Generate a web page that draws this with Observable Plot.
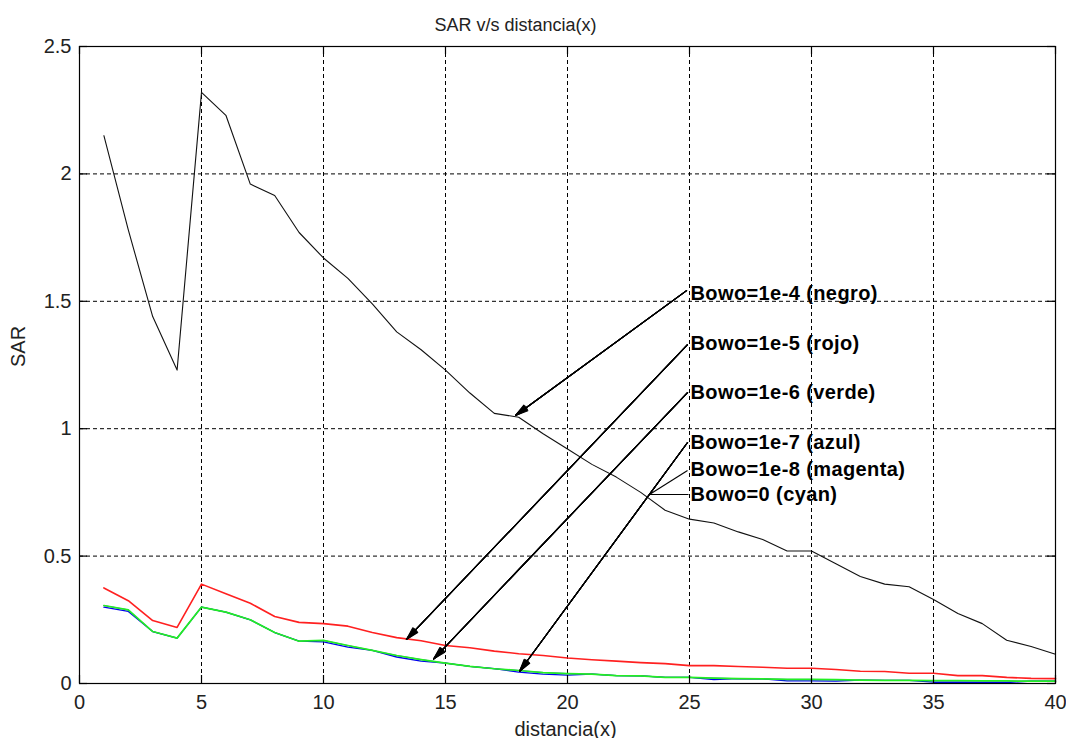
<!DOCTYPE html>
<html>
<head>
<meta charset="utf-8">
<script src="https://cdn.jsdelivr.net/npm/d3@7"></script>
<script src="https://cdn.jsdelivr.net/npm/@observablehq/plot@0.6"></script>
<style>
  html, body { margin: 0; padding: 0; background: white; }
  .anno text { letter-spacing: 0.4px; }
</style>
</head>
<body>
<div id="chart"></div>
<script>
// ---- data ----
const distancia = [1,2,3,4,5,6,7,8,9,10,11,12,13,14,15,16,17,18,19,20,21,22,23,24,25,26,27,28,29,30,31,32,33,34,35,36,37,38,39,40];
const sarNegro = [2.15,1.78,1.44,1.23,2.32,2.23,1.96,1.915,1.77,1.67,1.59,1.49,1.38,1.31,1.23,1.14,1.06,1.045,0.98,0.92,0.86,0.81,0.75,0.68,0.645,0.63,0.595,0.565,0.52,0.52,0.47,0.42,0.39,0.38,0.33,0.275,0.235,0.17,0.145,0.115];
const sarRojo = [0.375,0.325,0.247,0.22,0.39,0.352,0.315,0.263,0.24,0.235,0.225,0.20,0.18,0.168,0.149,0.14,0.127,0.117,0.11,0.10,0.093,0.088,0.082,0.078,0.07,0.07,0.067,0.064,0.06,0.06,0.055,0.048,0.047,0.04,0.04,0.031,0.031,0.024,0.02,0.019];
const sarVerde = [0.306,0.289,0.204,0.178,0.30,0.28,0.25,0.20,0.166,0.169,0.149,0.13,0.11,0.094,0.08,0.067,0.058,0.051,0.043,0.039,0.037,0.031,0.03,0.024,0.024,0.021,0.019,0.018,0.016,0.016,0.015,0.013,0.012,0.012,0.011,0.011,0.010,0.010,0.009,0.009];
const sarAzul = [0.300,0.283,0.204,0.178,0.30,0.28,0.25,0.20,0.166,0.163,0.143,0.13,0.104,0.088,0.08,0.067,0.058,0.045,0.037,0.033,0.037,0.031,0.03,0.024,0.024,0.015,0.019,0.018,0.010,0.010,0.009,0.013,0.012,0.012,0.005,0.005,0.004,0.004,0.009,0.009];
const sarMagenta = [0.306,0.289,0.204,0.178,0.30,0.28,0.25,0.20,0.166,0.169,0.149,0.13,0.11,0.094,0.08,0.067,0.058,0.051,0.043,0.039,0.037,0.031,0.03,0.024,0.024,0.021,0.019,0.018,0.016,0.016,0.015,0.013,0.012,0.012,0.011,0.011,0.010,0.010,0.009,0.009];
const sarCyan = [0.306,0.289,0.204,0.178,0.30,0.28,0.25,0.20,0.166,0.169,0.149,0.13,0.11,0.094,0.08,0.067,0.058,0.051,0.043,0.039,0.037,0.031,0.03,0.024,0.024,0.021,0.019,0.018,0.016,0.016,0.015,0.013,0.012,0.012,0.011,0.011,0.010,0.010,0.009,0.009];

const xTicks = [0,5,10,15,20,25,30,35,40];
const xTickLabels = ["0","5","10","15","20","25","30","35","40"];
const yTicks = [0,0.5,1,1.5,2,2.5];
const yTickLabels = ["0","0.5","1","1.5","2","2.5"];

const titleText = "SAR v/s distancia(x)";
const xLabel = "distancia(x)";
const yLabel = "SAR";

// annotation labels (text anchored at x = labelX, vertical centre = labelY)
const labelTexts = ["Bowo=1e-4 (negro)","Bowo=1e-5 (rojo)","Bowo=1e-6 (verde)","Bowo=1e-7 (azul)","Bowo=1e-8 (magenta)","Bowo=0 (cyan)"];
const labelX = 25.04;
const labelY = [1.531,1.334,1.142,0.946,0.840,0.742];

// arrows with heads: tail (x1,y1) -> tip (x2,y2)
const arrowX1 = [24.88,24.92,24.92,24.92];
const arrowY1 = [1.542,1.330,1.142,0.946];
const arrowX2 = [17.87,13.40,14.51,18.03];
const arrowY2 = [1.052,0.173,0.096,0.047];
// plain leader lines (magenta, cyan) joining the azul arrow
const leadX1 = [24.92,24.96];
const leadY1 = [0.836,0.742];
const leadX2 = [23.36,23.36];
const leadY2 = [0.742,0.742];

// ---- build ----
const idx = distancia.map((_, i) => i);
const arrowIdx = arrowX1.map((_, i) => i);
const leadIdx = leadX1.map((_, i) => i);
const seriesLine = (vals, color, w) =>
  Plot.line(idx, {x: i => distancia[i], y: i => vals[i], stroke: color, strokeWidth: w});

const headAngles = [4, 9, 14, 19, 24, 30];

const chart = Plot.plot({
  width: 1066,
  height: 738,
  marginLeft: 79,
  marginRight: 11,
  marginTop: 46,
  marginBottom: 55,
  x: {domain: [0, 40]},
  y: {domain: [0, 2.5]},
  style: {fontFamily: "'Liberation Sans', Arial, sans-serif", fontSize: "20px", color: "black", background: "white", overflow: "visible"},
  marks: [
    Plot.gridX(xTicks, {stroke: "black", strokeOpacity: 1, strokeWidth: 1, strokeDasharray: "4,3"}),
    Plot.gridY(yTicks, {stroke: "black", strokeOpacity: 1, strokeWidth: 1, strokeDasharray: "4,3"}),
    seriesLine(sarNegro, "#111111", 1.1),
    seriesLine(sarRojo, "#ff2020", 1.6),
    seriesLine(sarCyan, "#00ffff", 1.0),
    seriesLine(sarMagenta, "#ff00ff", 1.0),
    seriesLine(sarAzul, "#0000ee", 1.3),
    seriesLine(sarVerde, "#22f022", 1.7),
    Plot.frame({stroke: "black", strokeWidth: 1.2}),
    Plot.tickX(xTicks, {x: d => d, stroke: "black", strokeWidth: 1.2, insetTop: 629}),
    Plot.tickX(xTicks, {x: d => d, stroke: "black", strokeWidth: 1.2, insetBottom: 629}),
    Plot.tickY(yTicks, {y: d => d, stroke: "black", strokeWidth: 1.2, insetRight: 968}),
    Plot.tickY(yTicks, {y: d => d, stroke: "black", strokeWidth: 1.2, insetLeft: 968}),
    Plot.axisX(xTicks, {tickSize: 0, tickPadding: 11, fontSize: 20, label: null, tickFormat: (d, i) => xTickLabels[i], fill: "#222"}),
    Plot.axisY(yTicks, {tickSize: 0, tickPadding: 8, fontSize: 20, label: null, tickFormat: (d, i) => yTickLabels[i], fill: "#222"}),
    ...headAngles.map(a => Plot.arrow(arrowIdx, {
      x1: i => arrowX1[i], y1: i => arrowY1[i], x2: i => arrowX2[i], y2: i => arrowY2[i],
      stroke: "black", strokeWidth: 1.1, headAngle: a, headLength: 18
    })),
    Plot.link(leadIdx, {x1: i => leadX1[i], y1: i => leadY1[i], x2: i => leadX2[i], y2: i => leadY2[i], stroke: "black", strokeWidth: 1.1}),
    Plot.text(labelTexts, {x: () => labelX, y: (d, i) => labelY[i], text: d => d, textAnchor: "start", lineAnchor: "middle", fontSize: 20, fontWeight: "bold", fill: "black", className: "anno"}),
    Plot.text([titleText], {frameAnchor: "top", text: d => d, lineAnchor: "bottom", dy: -16, dx: -52, fontSize: 18, fill: "#222"}),
    Plot.text([xLabel], {frameAnchor: "bottom", text: d => d, lineAnchor: "bottom", dy: 52, dx: -2, fontSize: 20, fill: "#222"}),
    Plot.text([yLabel], {frameAnchor: "left", text: d => d, rotate: -90, lineAnchor: "middle", dx: -61, dy: 2, fontSize: 20, fill: "#222"})
  ]
});
document.getElementById("chart").appendChild(chart);
</script>
</body>
</html>
